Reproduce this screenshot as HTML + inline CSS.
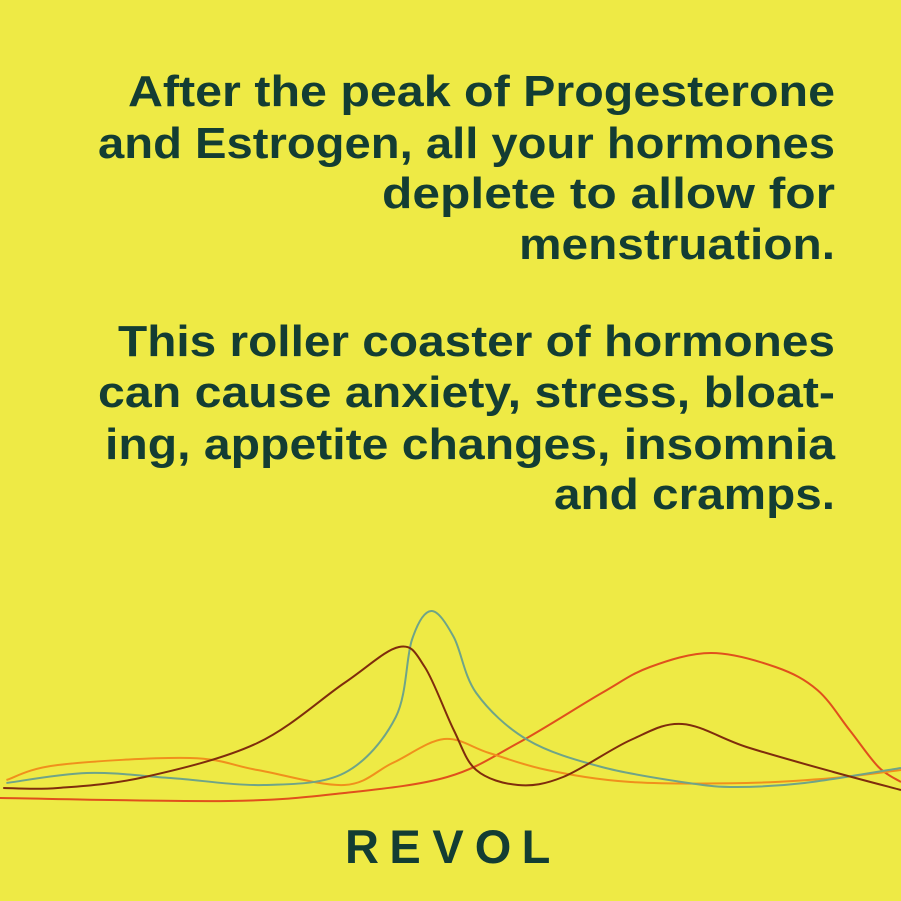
<!DOCTYPE html>
<html><head><meta charset="utf-8"><style>
html,body{margin:0;padding:0;background:#eeea45;}
svg{display:block;}
.t{font-family:"Liberation Sans",sans-serif;font-weight:bold;font-size:44px;fill:#133d33;}
</style></head><body>
<svg width="901" height="901" viewBox="0 0 901 901">
<rect width="901" height="901" fill="#eeea45"/>
<g text-anchor="end">
<text class="t" x="835" y="106" textLength="707" lengthAdjust="spacingAndGlyphs">After the peak of Progesterone</text>
<text class="t" x="835" y="158" textLength="737" lengthAdjust="spacingAndGlyphs">and Estrogen, all your hormones</text>
<text class="t" x="835" y="208" textLength="453" lengthAdjust="spacingAndGlyphs">deplete to allow for</text>
<text class="t" x="835" y="259" textLength="316" lengthAdjust="spacingAndGlyphs">menstruation.</text>
<text class="t" x="835" y="356" textLength="717" lengthAdjust="spacingAndGlyphs">This roller coaster of hormones</text>
<text class="t" x="835" y="407" textLength="737" lengthAdjust="spacingAndGlyphs">can cause anxiety, stress, bloat-</text>
<text class="t" x="835" y="459" textLength="730" lengthAdjust="spacingAndGlyphs">ing, appetite changes, insomnia</text>
<text class="t" x="835" y="509" textLength="281" lengthAdjust="spacingAndGlyphs">and cramps.</text>
</g>
<g id="curves"></g>
<g style="font-family:'Liberation Sans',sans-serif;font-weight:bold;font-size:47px;fill:#133d33" text-anchor="middle">
<text x="362" y="863">R</text>
<text x="405" y="863">E</text>
<text x="448" y="863">V</text>
<text x="493" y="863">O</text>
<text x="536" y="863">L</text>
</g>
</svg>
<script>
const tealDays=[0.2,2.7,5.3,8.2,10.7,12.3,12.8,13.4,14.1,14.8,16.4,18.7,21.4,22.9,25,28];
const tealVals=[11,16,13.5,10,16,44,82.5,97,84,56,32.5,19,11,9,11,18.5];
const orangeDays=[0.2,1.8,5.9,8.0,10.7,12.2,13.8,15.2,17,19.6,23.2,25.9,28];
const orangeVals=[12.5,20,23.5,17.5,10,21,33,26,17.5,11.5,11,13.5,17.5];
const redDays=[0,7.1,10.7,13.9,16.1,18.7,20.2,22.1,24.1,25.4,26.4,27.3,28];
const redVals=[3.5,2,6,14,31,56,69,76,69,57.5,37.5,19,11.5];
const brownDays=[0.1,1.8,4.5,8.0,10.7,12.4,13.2,14.1,14.8,16.1,17.5,19.6,21.2,23.2,25.9,28];
const brownVals=[8.5,8.5,14,31,61,79,69,37.5,17.5,10,14,32.5,40.5,29,16.5,7.5];

const xScale=d=>d/28*901;
const yScale=v=>805-v*2;
function pathFor(days,vals){
  const p=days.map((d,i)=>[xScale(d),yScale(vals[i])]);
  let s='M'+p[0][0]+','+p[0][1];
  for(let i=0;i<p.length-1;i++){
    const p0=p[i-1]||p[i],p1=p[i],p2=p[i+1],p3=p[i+2]||p2;
    const c1=[p1[0]+(p2[0]-p0[0])/6,p1[1]+(p2[1]-p0[1])/6];
    const c2=[p2[0]-(p3[0]-p1[0])/6,p2[1]-(p3[1]-p1[1])/6];
    s+=' C'+c1[0]+','+c1[1]+' '+c2[0]+','+c2[1]+' '+p2[0]+','+p2[1];
  }
  return s;
}
const g=document.getElementById('curves');
const NS='http://www.w3.org/2000/svg';
function add(days,vals,color,name){
  const el=document.createElementNS(NS,'path');
  el.setAttribute('d',pathFor(days,vals));
  el.setAttribute('fill','none');
  el.setAttribute('stroke',color);
  el.setAttribute('stroke-width','2');
  
  
  g.appendChild(el);
}
add(redDays,redVals,'#e0501c','red-hormone-line');
add(orangeDays,orangeVals,'#f0901c','orange-hormone-line');
add(tealDays,tealVals,'#6fa488','teal-hormone-line');
add(brownDays,brownVals,'#7f2c0c','brown-hormone-line');
</script>
</body></html>
